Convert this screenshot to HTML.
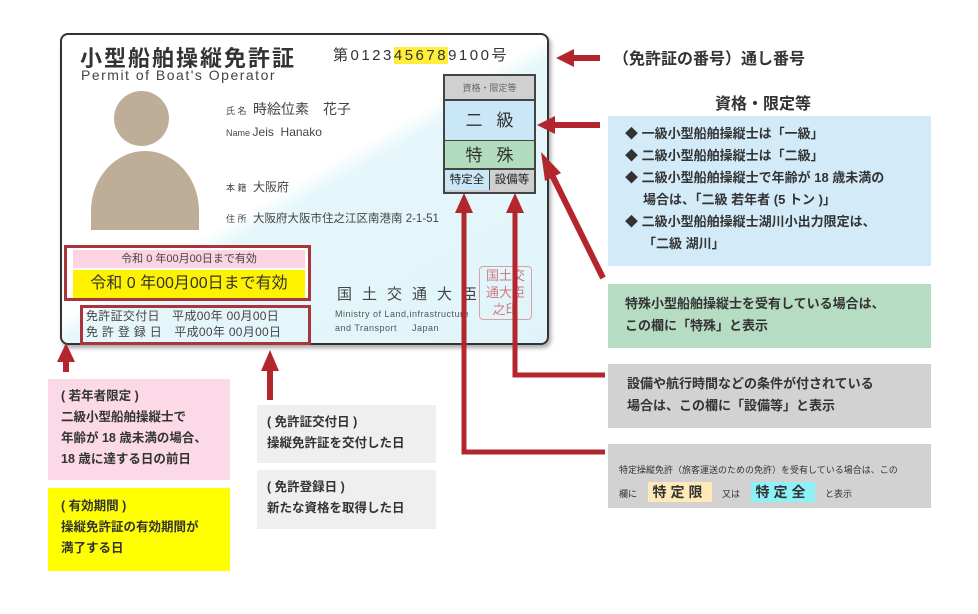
<!DOCTYPE html>
<html><head><meta charset="utf-8"><style>
*{margin:0;padding:0;box-sizing:border-box}
body{width:978px;height:614px;background:#fff;position:relative;overflow:hidden;font-family:"Liberation Sans","Noto Sans CJK JP",sans-serif;color:#333}
.a{position:absolute}
.card{left:60px;top:33px;width:489px;height:312px;border:2px solid #333;border-radius:8px;background:linear-gradient(150deg,#fff 0%,#fff 48%,#e6f7fb 52%,#dff4fa 100%);box-shadow:2px 3px 4px #aaa;overflow:hidden}
.box{font-size:13px;font-weight:bold;line-height:23px;color:#333}
</style></head><body>
<div class="a card"></div>
<div class="a" style="left:80px;top:45px;font-size:22px;line-height:24px;font-weight:bold;color:#333;letter-spacing:2px;font-family:'Noto Sans CJK JP',sans-serif">小型船舶操縦免許証</div>
<div class="a" style="left:333px;top:46px;font-size:15px;line-height:20px;letter-spacing:2.5px;color:#333">第0123<span style="background:#ffef3a">45678</span>9100号</div>
<div class="a" style="left:81px;top:67px;font-size:14px;line-height:16px;letter-spacing:1.5px;color:#444">Permit of Boat's Operator</div>
<div class="a" style="left:114px;top:91px;width:55px;height:55px;border-radius:50%;background:#bfae97"></div>
<div class="a" style="left:91px;top:151px;width:108px;height:79px;border-radius:54px 54px 0 0/60px 60px 0 0;background:#bfae97"></div>
<div class="a" style="left:226px;top:99px;font-size:9px;color:#444">氏 名 <span style="font-size:14px;margin-left:4px">時絵位素　花子</span></div>
<div class="a" style="left:226px;top:125px;font-size:9px;color:#444">Name <span style="font-size:12px">Jeis&nbsp; Hanako</span></div>
<div class="a" style="left:226px;top:178px;font-size:9px;color:#444">本 籍 <span style="font-size:12px;margin-left:4px">大阪府</span></div>
<div class="a" style="left:226px;top:210px;font-size:9px;color:#444">住 所 <span style="font-size:11.5px;margin-left:4px">大阪府大阪市住之江区南港南 2-1-51</span></div>
<div class="a" style="left:443px;top:74px;width:93px;height:120px;border:2px solid #444;background:#ccc">
 <div style="height:25px;background:#d0d0d0;font-size:9px;text-align:center;line-height:25px;color:#666;border-bottom:2px solid #444">資格・限定等</div>
 <div style="height:40px;background:#c9e7f7;font-size:17px;text-align:center;line-height:40px;border-bottom:1px solid #444;letter-spacing:14px;padding-left:14px">二級</div>
 <div style="height:29px;background:#b2dcbd;font-size:17px;text-align:center;line-height:29px;border-bottom:2px solid #444;letter-spacing:14px;padding-left:14px">特殊</div>
 <div style="display:flex;height:20px;font-size:11.5px;line-height:20px;text-align:center;color:#222"><div style="width:45px;background:#c9e7f7;border-right:1px solid #444">特定全</div><div style="flex:1;background:#cfcfcf">設備等</div></div>
</div>
<div class="a" style="left:64px;top:245px;width:247px;height:56px;border:3px solid #a8353c;background:#fff"></div>
<div class="a" style="left:73px;top:250px;width:232px;height:18px;background:#fbd3e1;font-size:11px;text-align:center;line-height:18px;color:#444">令和 0 年00月00日まで有効</div>
<div class="a" style="left:73px;top:270px;width:232px;height:28px;background:#fff200;font-size:16px;text-align:center;line-height:28px;color:#333">令和 0 年00月00日まで有効</div>
<div class="a" style="left:80px;top:305px;width:231px;height:40px;border:3px solid #a8353c;font-size:12px;line-height:16px;padding-left:3px;color:#444;letter-spacing:0.3px;white-space:nowrap">免許証交付日　平成00年 00月00日<br>免 許 登 録 日　平成00年 00月00日</div>
<div class="a" style="left:337px;top:283px;font-size:15px;letter-spacing:10px;color:#444">国土交通大臣</div>
<div class="a" style="left:335px;top:307px;font-size:9px;line-height:14px;color:#555;letter-spacing:.5px">Ministry of Land,infrastructure<br>and Transport &nbsp;&nbsp;&nbsp;&nbsp;Japan</div>
<div class="a" style="left:479px;top:266px;width:53px;height:54px;border:1.5px solid #d8a0a4;border-radius:4px;font-size:13px;color:#d07a80;line-height:17px;text-align:center">国土交<br>通大臣<br>之印</div>
<div class="a" style="left:613px;top:45px;font-size:16px;font-weight:bold;color:#333">（免許証の番号）通し番号</div>
<div class="a" style="left:715px;top:90px;font-size:16px;font-weight:bold;color:#333">資格・限定等</div>
<div class="a box" style="left:608px;top:116px;width:323px;height:150px;background:#d3ebf8;padding:7px 0 0 17px;line-height:22px">◆ 一級小型船舶操縦士は「一級」<br>◆ 二級小型船舶操縦士は「二級」<br>◆ 二級小型船舶操縦士で年齢が 18 歳未満の<br>&nbsp;&nbsp;&nbsp;&nbsp;&nbsp;場合は、「二級 若年者 (5 トン )」<br>◆ 二級小型船舶操縦士湖川小出力限定は、<br>&nbsp;&nbsp;&nbsp;&nbsp;&nbsp;「二級 湖川」</div>
<div class="a box" style="left:608px;top:284px;width:323px;height:64px;background:#b6ddc4;padding:9px 0 0 17px;line-height:22px">特殊小型船舶操縦士を受有している場合は、<br>この欄に「特殊」と表示</div>
<div class="a box" style="left:608px;top:364px;width:323px;height:64px;background:#d2d2d2;padding:9px 0 0 19px;line-height:22px">設備や航行時間などの条件が付されている<br>場合は、この欄に「設備等」と表示</div>
<div class="a" style="left:608px;top:444px;width:323px;height:64px;background:#d2d2d2;padding:14px 0 0 11px;font-size:9px;color:#333;line-height:24px">特定操縦免許（旅客運送のための免許）を受有している場合は、この<br>欄に <span style="display:inline-block;background:#ffe9b8;font-size:14px;font-weight:bold;padding:0 5px;letter-spacing:4px;line-height:20px;margin:0 8px">特定限</span> 又は <span style="display:inline-block;background:#8ff1f8;font-size:14px;font-weight:bold;padding:0 5px;letter-spacing:4px;line-height:20px;margin:0 8px">特定全</span> と表示</div>
<div class="a box" style="left:48px;top:379px;width:182px;height:101px;background:#fbd9e6;padding:7px 0 0 13px;line-height:21px;font-size:12.5px">( 若年者限定 )<br>二級小型船舶操縦士で<br>年齢が 18 歳未満の場合、<br>18 歳に達する日の前日</div>
<div class="a box" style="left:48px;top:488px;width:182px;height:83px;background:#ffff00;padding:8px 0 0 13px;line-height:21px;font-size:12.5px">( 有効期間 )<br>操縦免許証の有効期間が<br>満了する日</div>
<div class="a box" style="left:257px;top:405px;width:179px;height:58px;background:#efefef;padding:7px 0 0 10px;line-height:21px;font-size:12.5px">( 免許証交付日 )<br>操縦免許証を交付した日</div>
<div class="a box" style="left:257px;top:470px;width:179px;height:59px;background:#efefef;padding:7px 0 0 10px;line-height:21px;font-size:12.5px">( 免許登録日 )<br>新たな資格を取得した日</div>
<svg class="a" style="left:0;top:0" width="978" height="614">
<g fill="#b3262e" stroke="#b3262e">
<line x1="600" y1="58" x2="570" y2="58" stroke-width="6"/><polygon points="556,58 574,49 574,67" stroke="none"/>
<line x1="600" y1="125" x2="552" y2="125" stroke-width="6"/><polygon points="537,125 555,116 555,134" stroke="none"/>
<line x1="603" y1="278" x2="552" y2="175" stroke-width="6"/><polygon points="541,152 545,181 561,173" stroke="none"/>
<polyline points="605,375 515,375 515,208" fill="none" stroke-width="5"/><polygon points="515,193 506,213 524,213" stroke="none"/>
<polyline points="605,452 464,452 464,208" fill="none" stroke-width="5"/><polygon points="464,193 455,213 473,213" stroke="none"/>
<line x1="66" y1="372" x2="66" y2="360" stroke-width="6"/><polygon points="66,343 57,362 75,362" stroke="none"/>
<line x1="270" y1="400" x2="270" y2="370" stroke-width="6"/><polygon points="270,350 261,371 279,371" stroke="none"/>
</g></svg>
</body></html>
